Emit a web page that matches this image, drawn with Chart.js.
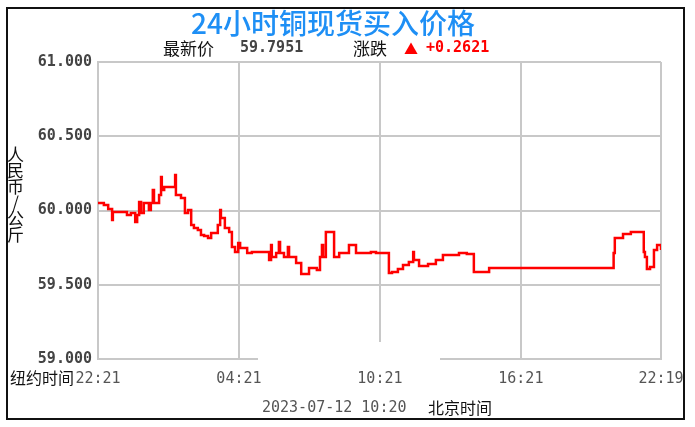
<!DOCTYPE html>
<html lang="zh">
<head>
<meta charset="UTF-8">
<title>24小时铜现货买入价格</title>
<script src="https://cdn.jsdelivr.net/npm/chart.js"></script>
<style>
    body { margin: 0; background: #fff; }
    #wrap { position: relative; width: 695px; height: 427px; font-family: "Noto Sans CJK SC", sans-serif; }
    #frame { position: absolute; left: 6px; top: 7px; width: 679px; height: 413px; border: 2px solid #111; box-sizing: border-box; }
    canvas { position: absolute; left: 0; top: 0; }
    .txt { position: absolute; white-space: nowrap; line-height: 1; }
    #title { left: 0; width: 666px; top: 8px; text-align: center; color: #1e8ff5; font-size: 28px; font-weight: 500; }
    .mono { font-family: "DejaVu Sans Mono", monospace; }
    #ylabel { left: 7px; top: 146px; writing-mode: vertical-rl; text-orientation: upright; font-size: 17px; color: #111; letter-spacing: -1px; }
    #cover { position: absolute; left: 258px; top: 342px; width: 182px; height: 20px; background: #fff; }
</style>
</head>
<body>
<div id="wrap">
    <div id="frame"></div>
    <canvas id="chart" width="695" height="427"></canvas>
    <div id="cover"></div>
    <div class="txt" id="title">24小时铜现货买入价格</div>
    <div class="txt" style="left:163px; top:39px; font-size:17px; color:#111;">最新价</div>
    <div class="txt mono" style="left:240px; top:40px; font-size:15px; font-weight:bold; color:#444;">59.7951</div>
    <div class="txt" style="left:353px; top:39px; font-size:17px; color:#111;">涨跌</div>
    <div class="txt" style="left:404px; top:41px; font-size:14px; color:#f00;">▲</div>
    <div class="txt mono" style="left:426px; top:40px; font-size:15px; font-weight:bold; color:#f00;">+0.2621</div>
    <div class="txt" id="ylabel">人民币/公斤</div>
    <div class="txt" style="left:10px; top:369px; font-size:16px; color:#111;">纽约时间</div>
    <div class="txt mono" style="left:262px; top:400px; font-size:15px; color:#555;">2023-07-12 10:20</div>
    <div class="txt" style="left:428px; top:399px; font-size:16px; color:#111;">北京时间</div>
</div>

<script>
    // minutes after 22:21 (New York time) and price (yuan per kg)
    const minutes = [0, 15, 26, 36, 38, 74, 84, 95, 100, 105, 110, 117, 130, 135, 140, 143, 156, 161, 163, 169,
        197, 199, 212, 222, 230, 238, 245, 255, 263, 271, 281, 289, 306, 312, 314, 324, 335, 342, 350, 358,
        363, 381, 393, 437, 442, 444, 455, 462, 465, 475, 485, 488, 506, 519, 539, 559, 567, 572, 575, 582,
        603, 616, 641, 659, 697, 710, 743, 751, 766, 779, 794, 805, 807, 820, 843, 863, 881, 922, 942, 960,
        999, 1315, 1317, 1320, 1341, 1361, 1394, 1397, 1402, 1410, 1420, 1428, 1438];
    const prices = [60.051, 60.037, 60.010, 59.936, 59.990, 59.970, 59.983, 59.923, 59.970, 60.057, 59.983, 60.051, 60.003, 60.051, 60.138, 60.051, 60.104, 60.226, 60.138, 60.158,
        60.239, 60.104, 60.084, 59.983, 60.003, 59.902, 59.882, 59.869, 59.835, 59.828, 59.815, 59.848, 59.902, 60.003, 59.949, 59.882, 59.855, 59.754, 59.721, 59.781,
        59.747, 59.714, 59.721, 59.667, 59.768, 59.687, 59.714, 59.788, 59.714, 59.687, 59.754, 59.687, 59.646, 59.572, 59.613, 59.599, 59.687, 59.768, 59.687, 59.855,
        59.687, 59.714, 59.768, 59.714, 59.721, 59.714, 59.579, 59.586, 59.606, 59.633, 59.653, 59.721, 59.667, 59.626, 59.640, 59.667, 59.700, 59.714, 59.707, 59.586,
        59.613, 59.613, 59.714, 59.815, 59.842, 59.855, 59.721, 59.687, 59.606, 59.620, 59.734, 59.768, 59.734];
    const tickMinutes = [0, 360, 720, 1080, 1438];
    const tickLabels = ['22:21', '04:21', '10:21', '16:21', '22:19'];

    const points = minutes.map((m, i) => ({ x: m, y: prices[i] }));
    const gridColor = '#c8c8c8';

    new Chart(document.getElementById('chart'), {
        type: 'line',
        data: {
            datasets: [{
                data: points,
                stepped: true,
                borderColor: '#ff0000',
                borderWidth: 2.5,
                pointRadius: 0,
                fill: false
            }]
        },
        options: {
            responsive: false,
            animation: false,
            layout: { padding: { left: 0, top: 62, right: 34, bottom: 38 } },
            plugins: { legend: { display: false }, tooltip: { enabled: false } },
            scales: {
                x: {
                    type: 'linear',
                    min: 0,
                    max: 1438,
                    afterBuildTicks: (s) => { s.ticks = tickMinutes.map(v => ({ value: v })); },
                    afterFit: (s) => { s.height = 30; },
                    grid: { color: gridColor, lineWidth: 2, drawTicks: false },
                    border: { color: gridColor, width: 2 },
                    ticks: {
                        padding: 11,
                        maxRotation: 0,
                        color: '#555',
                        font: { family: 'DejaVu Sans Mono', size: 15 },
                        callback: (v) => tickLabels[tickMinutes.indexOf(v)]
                    }
                },
                y: {
                    min: 59,
                    max: 61,
                    afterFit: (s) => { s.width = 98; },
                    grid: { color: gridColor, lineWidth: 2, drawTicks: false },
                    border: { color: gridColor, width: 2 },
                    ticks: {
                        stepSize: 0.5,
                        padding: 6,
                        color: '#444',
                        font: { family: 'DejaVu Sans Mono', size: 15, weight: 'bold' },
                        callback: (v) => v.toFixed(3)
                    }
                }
            }
        }
    });
</script>
</body>
</html>
